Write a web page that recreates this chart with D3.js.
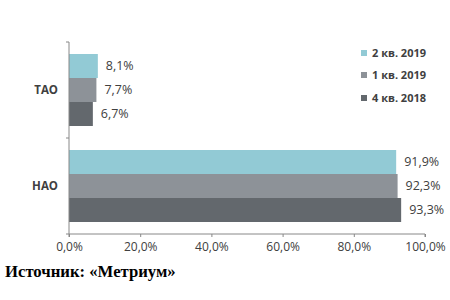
<!DOCTYPE html>
<html>
<head>
<meta charset="utf-8">
<script src="https://cdn.jsdelivr.net/npm/d3@7"></script>
<style>
  body { margin: 0; background: #fff; }
  svg text { font-family: "Open Sans", "Liberation Sans", sans-serif; }
</style>
</head>
<body>
<div class="vis-container"></div>
<script>
const categories = ['ТАО', 'НАО'];
const seriesNames = ['2 кв. 2019', '1 кв. 2019', '4 кв. 2018'];
const seriesColors = ['#92cad5', '#8d9298', '#63686d'];
const taoValues = [8.1, 7.7, 6.7];
const naoValues = [91.9, 92.3, 93.3];
const xTicks = [0, 20, 40, 60, 80, 100];

const width = 450;
const height = 300;
const margin = {left: 69, right: 25, top: 42, bottom: 66};

const svg = d3.select('.vis-container').append('svg')
  .attr('width', width)
  .attr('height', height);

const x = d3.scaleLinear().domain([0, 100]).range([margin.left, width - margin.right]);
const y = d3.scaleBand().domain(categories).range([margin.top, height - margin.bottom]);
const inner = d3.scaleBand().domain(seriesNames).range([0, y.bandwidth()]).paddingOuter(0.5);

const fmt = v => v.toFixed(1).replace('.', ',') + '%';
const rows = [taoValues, naoValues];

// bars
categories.forEach((cat, ci) => {
  const g = svg.append('g').attr('transform', `translate(0,${y(cat)})`);
  g.selectAll('rect').data(rows[ci])
    .enter().append('rect')
      .attr('x', x(0))
      .attr('y', (d, i) => inner(seriesNames[i]))
      .attr('width', d => x(d) - x(0))
      .attr('height', inner.bandwidth())
      .attr('fill', (d, i) => seriesColors[i]);
  g.selectAll('.val').data(rows[ci])
    .enter().append('text')
      .attr('class', 'val')
      .attr('x', d => x(d) + 8)
      .attr('y', (d, i) => inner(seriesNames[i]) + inner.bandwidth() / 2)
      .attr('dy', '0.35em')
      .attr('font-size', 12.5)
      .attr('fill', '#404040')
      .text(fmt);
});

// x axis
const xAxis = d3.axisBottom(x).tickValues(xTicks).tickSize(3).tickFormat(fmt);
const gx = svg.append('g')
  .attr('transform', `translate(0,${height - margin.bottom})`)
  .call(xAxis);
gx.select('.domain').attr('stroke', '#888').attr('d', `M${x(0)},3V0H${x(100)}V3`);
gx.selectAll('.tick line').attr('stroke', '#888');
gx.selectAll('.tick text').attr('font-size', 12).attr('fill', '#404040').attr('dy', '0.95em')
  .style('font-family', '"Open Sans", sans-serif');

// y axis
const gy = svg.append('g').attr('transform', `translate(${x(0)},0)`);
gy.append('line')
  .attr('y1', y.range()[0]).attr('y2', y.range()[1])
  .attr('stroke', '#888');
gy.selectAll('.ytick').data([y.range()[0], y(categories[1]), y.range()[1]])
  .enter().append('line')
    .attr('class', 'ytick')
    .attr('x1', -3).attr('x2', 0)
    .attr('y1', d => d).attr('y2', d => d)
    .attr('stroke', '#888');
gy.selectAll('.cat').data(categories)
  .enter().append('text')
    .attr('class', 'cat')
    .attr('x', -11)
    .attr('y', d => y(d) + y.bandwidth() / 2)
    .attr('dy', '0.35em')
    .attr('text-anchor', 'end')
    .attr('font-size', 11.5)
    .attr('font-weight', 'bold')
    .attr('fill', '#404040')
    .text(d => d);

// legend
const legendY = [53, 75, 98];
const legend = svg.append('g').attr('transform', 'translate(361,0)');
legend.selectAll('rect').data(seriesNames)
  .enter().append('rect')
    .attr('x', 0)
    .attr('y', (d, i) => legendY[i] - 3)
    .attr('width', 6)
    .attr('height', 6)
    .attr('fill', (d, i) => seriesColors[i]);
legend.selectAll('text').data(seriesNames)
  .enter().append('text')
    .attr('x', 11)
    .attr('y', (d, i) => legendY[i])
    .attr('dy', '0.35em')
    .attr('font-size', 11)
    .attr('font-weight', 'bold')
    .attr('fill', '#404040')
    .text(d => d);

// source
svg.append('text')
  .attr('x', 5)
  .attr('y', 277)
  .attr('font-size', 16.7)
  .attr('font-weight', 'bold')
  .style('font-family', '"Liberation Serif", serif')
  .attr('fill', '#000')
  .text('Источник: «Метриум»');
</script>
</body>
</html>
